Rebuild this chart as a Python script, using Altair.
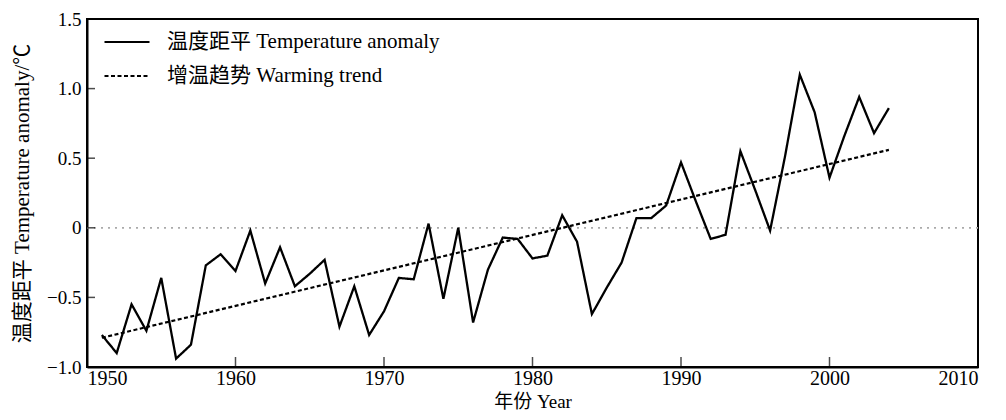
import altair as alt
import pandas as pd

years = list(range(1951, 2005))
anomaly = [-0.77, -0.90, -0.55, -0.74, -0.36, -0.94, -0.84, -0.27, -0.19, -0.31,
           -0.02, -0.40, -0.14, -0.42, -0.33, -0.23, -0.71, -0.42, -0.77, -0.60,
           -0.36, -0.37, 0.03, -0.51, 0.00, -0.68, -0.30, -0.07, -0.08, -0.22,
           -0.20, 0.09, -0.10, -0.62, -0.43, -0.25, 0.07, 0.07, 0.16, 0.47,
           0.19, -0.08, -0.05, 0.55, 0.27, -0.02, 0.51, 1.10, 0.83, 0.36,
           0.66, 0.94, 0.68, 0.86]
trend_years = [1951, 2004]
trend_values = [-0.79, 0.56]
x_tick_values = [1960, 1970, 1980, 1990, 2000]
y_tick_values = [-0.5, 0.0, 0.5, 1.0]
x_labels = [1950, 1960, 1970, 1980, 1990, 2000, 2010]
y_labels = [-1.0, -0.5, 0.0, 0.5, 1.0, 1.5]
series_names = ["温度距平  Temperature anomaly", "增温趋势  Warming trend"]

df_a = pd.DataFrame({"year": years, "value": anomaly, "series": series_names[0]})
df_t = pd.DataFrame({"year": trend_years, "value": trend_values, "series": series_names[1]})
df_xt = pd.DataFrame({"year": x_tick_values})
df_yt = pd.DataFrame({"value": y_tick_values})

serif = "Liberation Serif, Noto Sans CJK SC"
x_scale = alt.Scale(domain=[1950, 2010], nice=False, zero=False)
y_scale = alt.Scale(domain=[-1.0, 1.5], nice=False, zero=False)

x_axis = alt.Axis(values=x_labels, format="d", labelFont=serif, labelFontSize=20,
                  labelColor="black", tickSize=0, labelPadding=1, grid=False,
                  domainColor="black", domainWidth=2,
                  title="年份  Year", titleFont=serif, titleFontSize=19,
                  titleFontWeight="normal", titleColor="black", titlePadding=4)
y_axis = alt.Axis(values=y_labels,
                  labelExpr="datum.value == 0 ? '0' : format(datum.value, '.1f')",
                  labelFont=serif, labelFontSize=19, labelColor="black",
                  tickSize=0, labelPadding=6, grid=False,
                  domainColor="black", domainWidth=2,
                  title="温度距平  Temperature anomaly/℃", titleFont=serif,
                  titleFontSize=21, titleFontWeight="normal", titleColor="black",
                  titlePadding=14)

dash = alt.StrokeDash(
    "series:N",
    scale=alt.Scale(domain=series_names, range=[[1, 0], [4, 2.5]]),
    legend=alt.Legend(title=None, orient="none", legendX=16, legendY=-1,
                      symbolType="stroke", symbolSize=2025, symbolStrokeWidth=2.2,
                      symbolStrokeColor="black", labelFont=serif, labelFontSize=21,
                      labelColor="black", labelOffset=16, rowPadding=-8,
                      labelLimit=500),
)

zero = alt.Chart(df_yt).mark_rule(color="#aaaaaa", strokeDash=[2, 5], strokeWidth=1).encode(
    y=alt.datum(0.0, scale=y_scale)
)

base_x = alt.X("year:Q", scale=x_scale, axis=x_axis)
base_y = alt.Y("value:Q", scale=y_scale, axis=y_axis)

trend = alt.Chart(df_t).mark_line(color="black", strokeWidth=2.2).encode(
    x=base_x, y=base_y, strokeDash=dash
)
line = alt.Chart(df_a).mark_line(color="black", strokeWidth=2.3).encode(
    x=base_x, y=base_y, strokeDash=dash
)

xticks = alt.Chart(df_xt).mark_tick(orient="vertical", size=10, thickness=1.5,
                                     color="black", yOffset=-5).encode(
    x=alt.X("year:Q"), y=alt.datum(-1.0)
)
yticks = alt.Chart(df_yt).mark_tick(orient="horizontal", size=8, thickness=1.5,
                                     color="black", xOffset=4).encode(
    y=alt.Y("value:Q"), x=alt.datum(1950)
)

chart = alt.layer(zero, trend, line, xticks, yticks).properties(
    width=891, height=348,
    autosize=alt.AutoSizeParams(type="none"),
    padding={"left": 79, "top": 11, "right": 20, "bottom": 53},
    background="white",
).configure_view(stroke="black", strokeWidth=2)

chart.save("out.html", embed_options={"renderer": "svg", "actions": False})
